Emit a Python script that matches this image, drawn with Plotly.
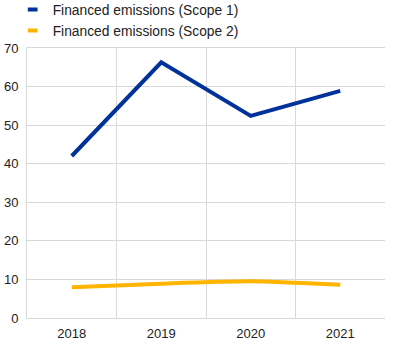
import plotly.graph_objects as go

years = ["2018", "2019", "2020", "2021"]
scope1 = [42.0, 66.3, 52.4, 58.9]
scope2 = [8.0, 8.9, 9.5, 8.6]
names = ["Financed emissions (Scope 1)", "Financed emissions (Scope 2)"]
colors = ["#003299", "#FFB400"]

fig = go.Figure()
fig.add_trace(go.Scatter(x=years, y=scope1, mode="lines", line=dict(color=colors[0], width=4),
                         showlegend=False, hoverinfo="skip"))
fig.add_trace(go.Scatter(x=years, y=scope2, mode="lines", line=dict(color=colors[1], width=4, shape="spline", smoothing=0.6),
                         showlegend=False, hoverinfo="skip"))
for n, c in zip(names, colors):
    fig.add_trace(go.Scatter(x=[None], y=[None], mode="markers", name=n,
                             marker=dict(symbol="line-ew", size=7, line=dict(color=c, width=4))))

fig.update_layout(
    width=398, height=346,
    margin=dict(l=27, r=13, t=48, b=28, autoexpand=False),
    paper_bgcolor="white", plot_bgcolor="white",
    font=dict(family="Liberation Sans, Arial, sans-serif", size=13, color="#222"),
    legend=dict(x=-0.04, y=1.2, xanchor="left", yanchor="top",
                font=dict(size=13.8, color="#222"), tracegroupgap=0, itemwidth=30, bgcolor="rgba(0,0,0,0)"),
    xaxis=dict(type="category", range=[-0.5, 3.5], tickson="boundaries", showgrid=True, gridcolor="#d9d9d9", gridwidth=1,
               ticks="", showline=True, linecolor="#d9d9d9", mirror=True, fixedrange=True, ticklabelstandoff=3),
    yaxis=dict(range=[0, 70], dtick=10, showgrid=True, gridcolor="#d9d9d9", gridwidth=1,
               zeroline=False, showline=True, linecolor="#d9d9d9", ticks="", fixedrange=True, ticklabelstandoff=5),
)
fig.write_html("out.html")
